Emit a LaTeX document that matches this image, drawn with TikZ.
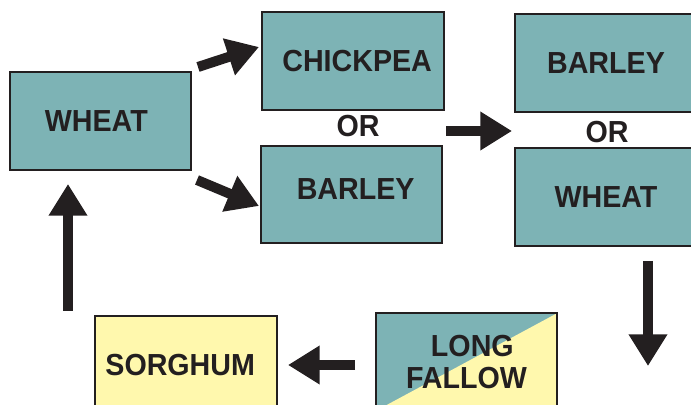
\documentclass[tikz,border=0pt]{standalone}
\usepackage{graphicx}
\usepackage{fontspec}
\setmainfont{Liberation Sans}
\usetikzlibrary{calc,arrows.meta}
\definecolor{teal}{HTML}{7DB3B5}
\definecolor{straw}{HTML}{FFF8AD}
\definecolor{ink}{HTML}{231F20}
\newcommand{\narrow}[1]{\scalebox{0.94}[1]{#1}}

\begin{document}
\begin{tikzpicture}[x=0.03cm,y=-0.03cm,
		crop/.style={draw=ink, line width=1.7pt, fill=teal, minimum width=5.44cm,
			minimum height=2.93cm, inner sep=0pt, align=center, text=ink,
			font=\fontsize{26}{27.2}\selectfont\bfseries},
		orword/.style={text=ink, inner sep=0pt, font=\fontsize{26}{27.2}\selectfont\bfseries},
		blk/.style={draw=ink, line width=0.3cm, -{Triangle[length=0.95cm,width=1.1cm]}}]
				\useasboundingbox (0,0) rectangle (691,405);
				\clip (0,0) rectangle (691,405);
				
				\node[crop] (wheatA) at (100.5,121) {\narrow{WHEAT}\hspace{0.25cm}};
				\node[crop] (chick) at (353,61) {\hspace{0.25cm}\narrow{CHICKPEA}};
				\node[orword] (orA) at (358,126) {\narrow{OR}};
				\node[crop, text height=0.66cm, text depth=0.38cm] (barleyA) at (351.5,194.5) {\hspace{0.25cm}\narrow{BARLEY}};
				\node[crop] (barleyB) at (606,63) {\narrow{BARLEY}};
				\node[orword] (orB) at (607,132) {\narrow{OR}};
				\node[crop] (wheatB) at (606,197) {\narrow{WHEAT}};
				\node[crop, path picture={
					\fill[straw] (path picture bounding box.south west) -- (path picture bounding box.north east)
					-- (path picture bounding box.south east) -- cycle;}] (fallow) at (466.5,362) {\hspace{0.35cm}\narrow{LONG}\\\narrow{FALLOW}};
				\node[crop, fill=straw] (sorghum) at (186,365) {\narrow{SORGHUM}\hspace{0.35cm}};
				
				\coordinate (t1) at (198,67);
				\coordinate (h1) at (259,47);
				\coordinate (t2) at (197,180);
				\coordinate (h2) at (259,206);
				\coordinate (t3) at (446,131);
				\coordinate (h3) at (512,131);
				\coordinate (t4) at (648,261);
				\coordinate (h4) at (648,366);
				\coordinate (t5) at (355,365);
				\coordinate (h5) at (288,365);
				\coordinate (t6) at (68,311);
				\coordinate (h6) at (68,184);
				
				\foreach \n in {1,...,6}{
					\draw[blk] (t\n) -- (h\n);}
			\end{tikzpicture}
\end{document}
